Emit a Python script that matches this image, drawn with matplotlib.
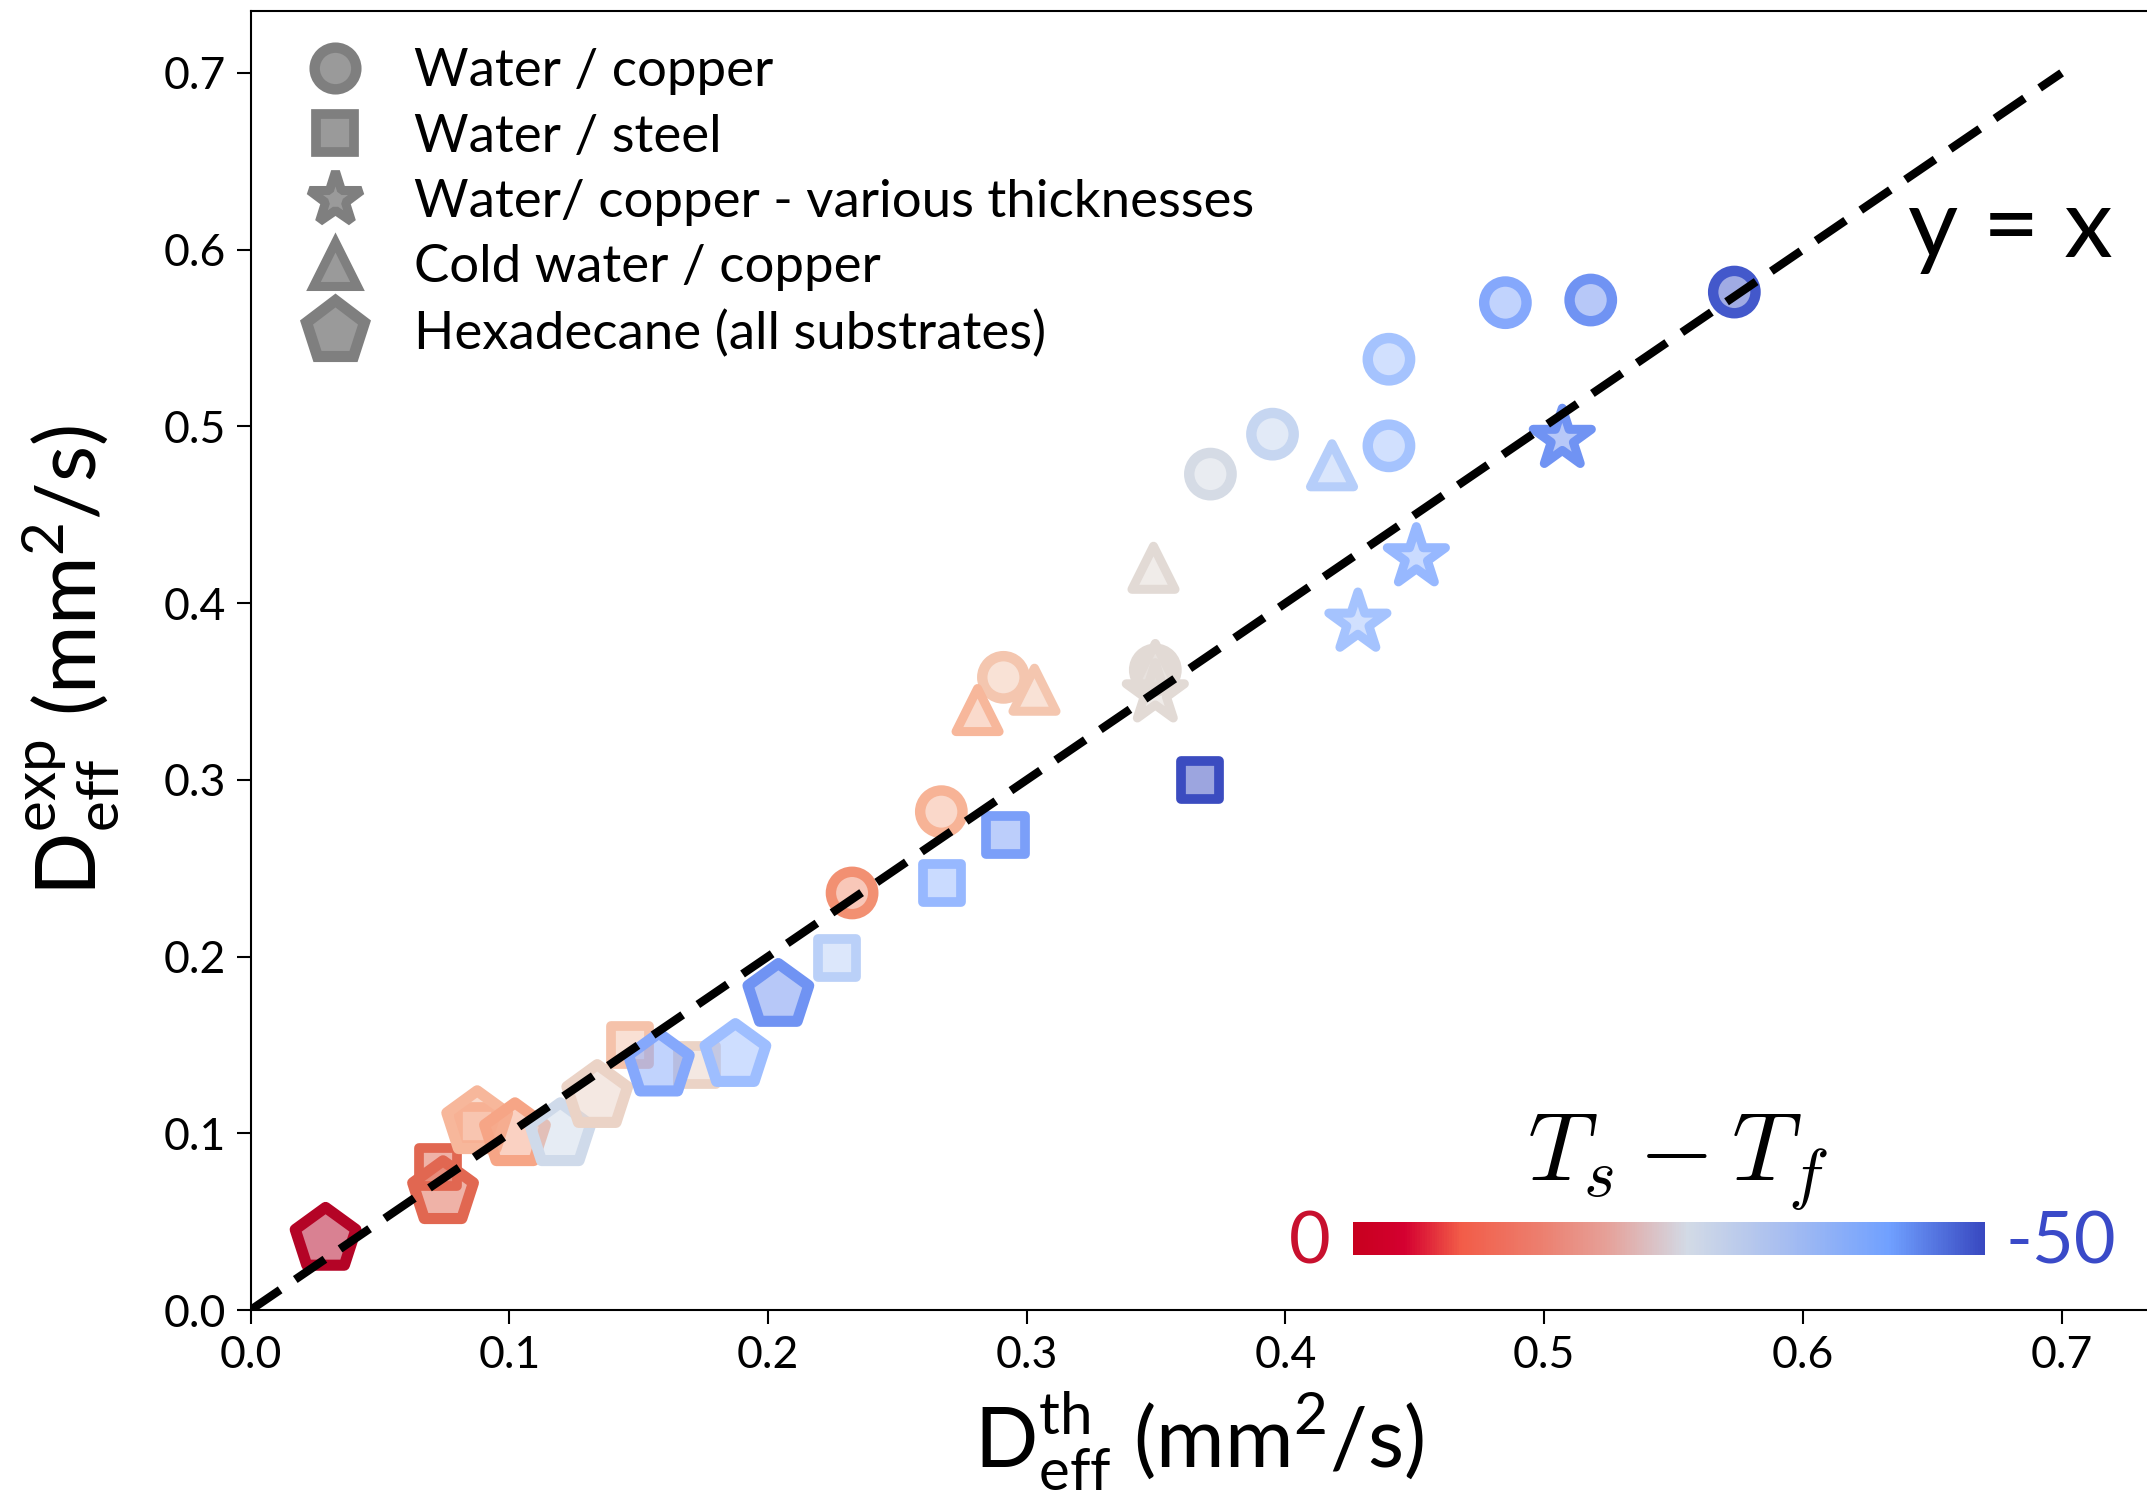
import numpy as np
import matplotlib
matplotlib.use('Agg')
import matplotlib.pyplot as plt
from matplotlib.colors import LinearSegmentedColormap, Normalize
from matplotlib.cm import ScalarMappable
from matplotlib.lines import Line2D

plt.rcParams['font.family'] = ['Lato', 'DejaVu Sans']

# water / copper
cu_x = [0.5735, 0.518, 0.485, 0.440, 0.440, 0.395, 0.371, 0.3497, 0.291, 0.267, 0.2325]
cu_y = [0.576, 0.5715, 0.570, 0.538, 0.489, 0.4956, 0.473, 0.3622, 0.358, 0.282, 0.236]
cu_dT = [-48.5, -41.5, -38.5, -34, -34, -29, -26.5, -24, -19, -16, -11.5]

# water / steel
st_x = [0.367, 0.2918, 0.2674, 0.2266, 0.1467, 0.1726, 0.0876, 0.0725]
st_y = [0.300, 0.2687, 0.2416, 0.199, 0.150, 0.1388, 0.104, 0.081]
st_dT = [-50, -40, -36, -31, -18.5, -22, -15, -7]

# water / copper - various thicknesses
th_x = [0.507, 0.4506, 0.428, 0.3497]
th_y = [0.493, 0.426, 0.389, 0.349]
th_dT = [-41.5, -36, -34, -24]

# cold water / copper
cold_x = [0.418, 0.349, 0.3497, 0.303, 0.281]
cold_y = [0.478, 0.420, 0.365, 0.351, 0.3395]
cold_dT = [-31.5, -24, -24, -19, -16.5]

# hexadecane
hex_x = [0.029, 0.0744, 0.0876, 0.1022, 0.1197, 0.134, 0.1578, 0.1874, 0.204]
hex_y = [0.040, 0.0664, 0.106, 0.0992, 0.0992, 0.1208, 0.1386, 0.144, 0.178]
hex_dT = [0, -7, -16.5, -14, -27.5, -22, -38.5, -35, -41.5]

legend_labels = ['Water / copper', 'Water / steel', 'Water/ copper - various thicknesses',
                 'Cold water / copper', 'Hexadecane (all substrates)']

# colour strip, left (0) to right (-50)
bar_pos = [0.0, 0.08, 0.17, 0.30, 0.40, 0.53, 0.68, 0.85, 1.0]
bar_cols = ['#c8001e', '#d40030', '#f25c48', '#ec8070', '#e6a098', '#d2dae6',
            '#a8bef0', '#70a0ff', '#3848c0']

norm = Normalize(-50, 0)
cmap = plt.get_cmap('coolwarm')

fig = plt.figure(figsize=(21.47, 14.96), dpi=100)
ax = fig.add_axes([0.1167, 0.1243, 0.8833, 0.8683])

groups = [
    (cu_x, cu_y, cu_dT, 'o', 30.5, 7.5),
    (st_x, st_y, st_dT, 's', 27.5, 7.0),
    (th_x, th_y, th_dT, '*', 44, 6.5),
    (cold_x, cold_y, cold_dT, '^', 31, 6.5),
    (hex_x, hex_y, hex_dT, 'p', 46, 8.0),
]
for gx, gy, gdT, mk, ms, lw in groups:
    edge = cmap(norm(np.array(gdT)))
    face = edge.copy()
    face[:, 3] = 0.5
    ax.scatter(gx, gy, s=ms ** 2, marker=mk, facecolors=face, edgecolors=edge,
               linewidths=lw, zorder=3)

ax.plot([0, 0.7], [0, 0.7], color='black', lw=6, ls=(0, (4.3, 2.2)), zorder=5)
ax.text(0.68, 0.611, 'y = x', fontsize=70, ha='center', va='center')

ax.set_xlim(0, 0.733)
ax.set_ylim(0, 0.735)
ax.set_xticks(np.arange(0, 0.71, 0.1))
ax.set_yticks(np.arange(0, 0.71, 0.1))
ax.xaxis.set_major_formatter(lambda v, p: f'{v:.1f}')
ax.yaxis.set_major_formatter(lambda v, p: f'{v:.1f}')
ax.tick_params(labelsize=32, length=10, width=1.5, pad=8)
ax.spines['right'].set_visible(False)
for s in ['left', 'bottom', 'top']:
    ax.spines[s].set_linewidth(1.5)

ax.set_xlabel(r'D$_{\mathregular{eff}}^{\mathregular{th}}$ (mm$^{\mathregular{2}}$/s)',
              fontsize=60, labelpad=10)
ax.set_ylabel(r'D$_{\mathregular{eff}}^{\mathregular{exp}}$ (mm$^{\mathregular{2}}$/s)',
              fontsize=60, labelpad=30)

handles = []
for (gx, gy, gdT, mk, ms, lw), lab in zip(groups, legend_labels):
    hs = {'o': 30, 's': 28, '*': 40, '^': 32, 'p': 44}[mk]
    handles.append(Line2D([], [], ls='none', marker=mk, markersize=hs, markeredgewidth=lw,
                          markerfacecolor='#9a9a9a', markeredgecolor='#7f7f7f', label=lab))
ax.legend(handles=handles, loc='upper left', bbox_to_anchor=(-0.004, 1.002), frameon=False,
          fontsize=38, handletextpad=0.5, labelspacing=0.35, borderaxespad=0.35)

bar_cmap = LinearSegmentedColormap.from_list('bar', list(zip(bar_pos, bar_cols)))
cax = fig.add_axes([0.6302, 0.1611, 0.2944, 0.0221])
cb = fig.colorbar(ScalarMappable(Normalize(0, 1), bar_cmap), cax=cax, orientation='horizontal')
cb.outline.set_visible(False)
cax.set_xticks([])
fig.text(1310 / 2147, 1 - 1243 / 1496, '0', fontsize=52, color='#c8102e', ha='center', va='center')
fig.text(2061 / 2147, 1 - 1243 / 1496, '-50', fontsize=52, color='#3a4ac8', ha='center', va='center')
fig.text(1677 / 2147, 1 - 1163 / 1496, r'$T_s - T_f$', fontsize=70, ha='center', va='center',
         math_fontfamily='cm')

fig.savefig('out.png', dpi=100)
